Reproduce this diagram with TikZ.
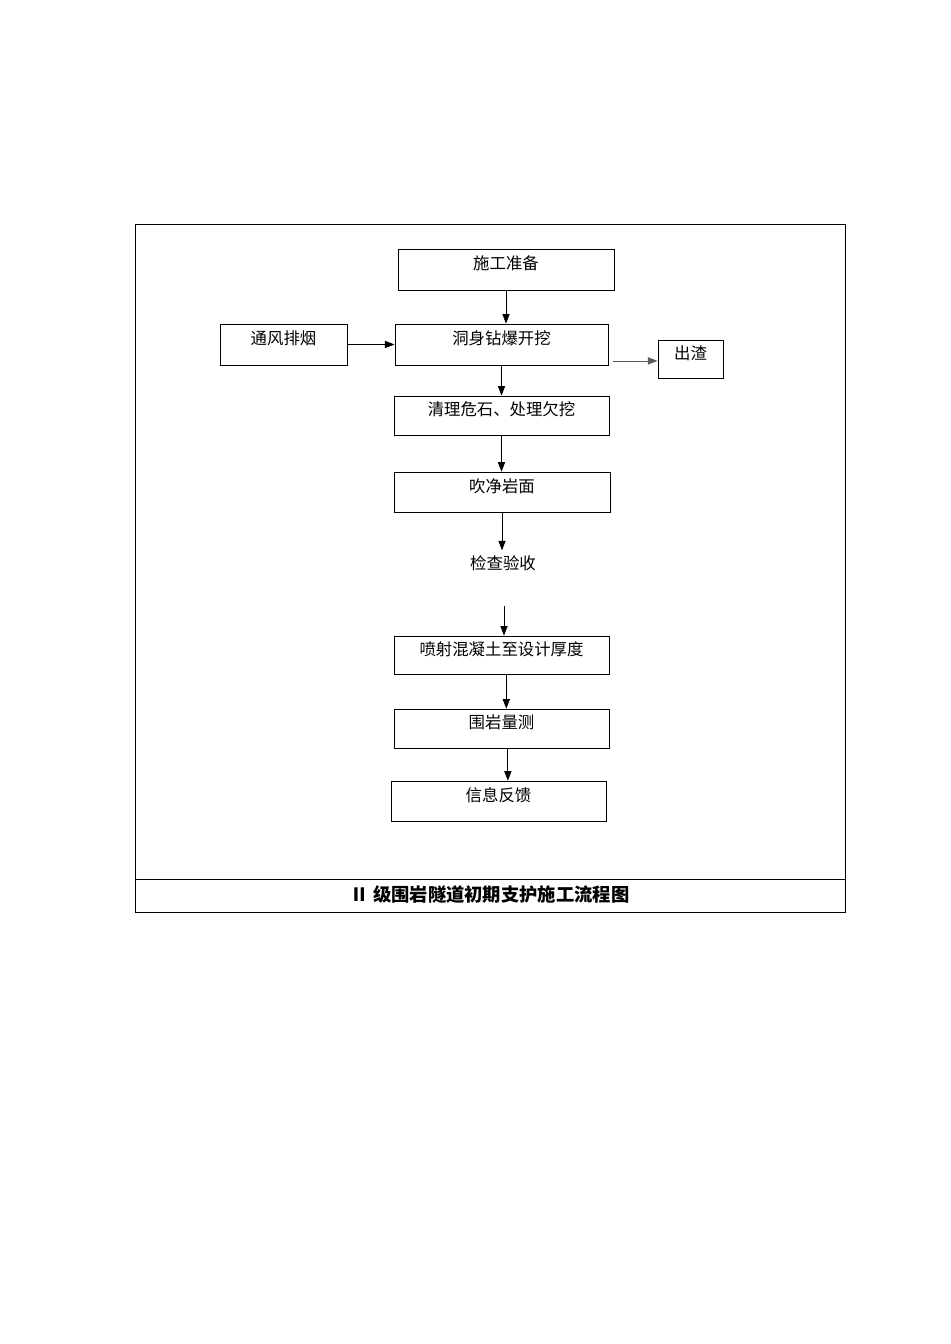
\documentclass[tikz,border=0pt]{standalone}
\usepackage{fontspec}
\newfontfamily\cjk{Noto Sans CJK SC}
\usepackage{tikz}
\usetikzlibrary{arrows.meta,positioning}

\begin{document}
\begin{tikzpicture}[x=0.0221cm, y=-0.0221cm,
    block/.style={draw, line width=0.5pt, minimum width=4.75cm, minimum height=0.87cm,
                  inner sep=2pt, text height=8pt, text depth=7.5pt, align=center,
                  font=\cjk\fontsize{10.3pt}{12pt}\selectfont},
    plain/.style={inner sep=3pt, font=\cjk\fontsize{10.3pt}{12pt}\selectfont},
    arr/.style={-{Triangle[length=6pt,width=4.5pt]}, line width=0.5pt}
  ]
    \useasboundingbox (0,0) rectangle (950,1344);
    % frame and caption row
    \draw[line width=0.5pt] (135,224) rectangle (845,912);
    \draw[line width=0.5pt] (135,879) -- (845,879);
    \node[font=\cjk\bfseries\fontsize{11.5pt}{13pt}\selectfont] (title) at (490,895) {Ⅱ 级围岩隧道初期支护施工流程图};

    \node[block, minimum width=4.77cm, minimum height=0.906cm] (prep)  at (506,269.5) {施工准备};
    \node[block, minimum width=2.81cm, minimum height=0.906cm] (vent)  at (283.5,344.5) {通风排烟};
    \node[block, minimum width=4.71cm, minimum height=0.906cm] (dig)   at (501.5,344.5) {洞身钻爆开挖};
    \node[block, minimum width=1.44cm, minimum height=0.84cm]  (slag)  at (690.5,359) {出渣};
    \node[block, minimum height=0.86cm]                        (clean) at (501.5,415.5) {清理危石、处理欠挖};
    \node[block, minimum width=4.77cm, minimum height=0.88cm]  (wash)  at (502,492) {吹净岩面};
    \node[plain]                                               (check) at (503,563) {检查验收};
    \node[block, minimum height=0.84cm]                        (spray) at (501.5,655) {喷射混凝土至设计厚度};
    \node[block, minimum height=0.86cm]                        (meas)  at (501.5,728.5) {围岩量测};
    \node[block, minimum height=0.88cm]                        (info)  at (498.5,801) {信息反馈};
    \coordinate (gap) at (504,606);

    \draw[arr] (prep.south) -- (prep.south |- dig.north);
    \draw[arr] (vent.east) -- (dig.west);
    \draw[arr, gray!70!black] ([xshift=3pt,yshift=-1.2pt]dig.east |- slag.west) -- ([yshift=-1.2pt]slag.west);
    \draw[arr] (dig.south) -- (dig.south |- clean.north);
    \draw[arr] (clean.south) -- (clean.south |- wash.north);
    \draw[arr] (wash.south) -- (wash.south |- check.north);
    \draw[arr] (gap) -- (gap |- spray.north);
    \draw[arr] ([xshift=3]spray.south) -- ([xshift=3]spray.south |- meas.north);
    \draw[arr] ([xshift=4]meas.south) -- ([xshift=4]meas.south |- info.north);
  \end{tikzpicture}
\end{document}
